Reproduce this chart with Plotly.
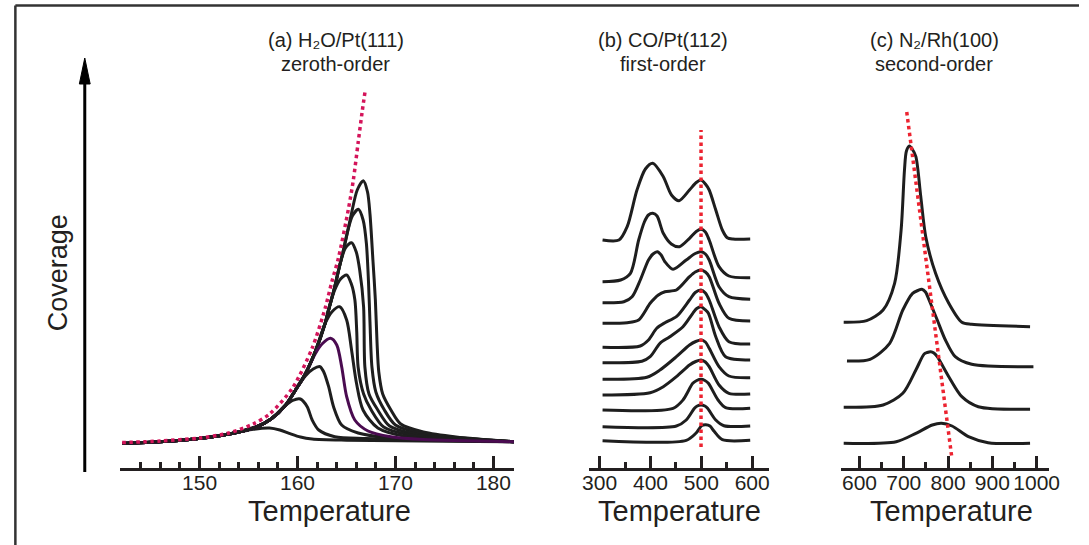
import plotly.graph_objects as go

W, H = 1089, 545
FONT = "Liberation Sans, Arial, sans-serif"
INK = "#231f20"

# ---------------- Panel (a): H2O/Pt(111), zeroth-order ----------------
A1_T = [142.1,145.4,148.4,151.5,154.0,155.8,157.3,158.8,159.8,160.8,161.8,162.8,163.2,163.8,164.2,164.6,165.0,165.5,166.1,166.72,167.15,167.4,167.7,167.95,168.12,168.3,168.7,169.54,170.54,172.85,176.2,182.1]
A1_Y = [-1.5,0,2,5.5,10,15,23,37,52,68,90,118,133,155,172,188,205,228,252,261.3,250,228,182,142,100,70,48,32,18,10,5,0.3]
A2_T = [142.1,145.4,148.4,151.5,154.0,155.8,157.3,158.8,159.8,160.8,161.8,162.8,163.2,163.8,164.2,164.6,165.1,165.6,166.22,166.7,167.03,167.25,167.4,167.6,168.0,168.87,170.0,172.5,176.2,182.1]
A2_Y = [-1.5,0,2,5.5,10,15,23,37,52,68,90,118,133,155,172,188,210,226,232.7,222,199,160,120,75,50,32,17,9,4.5,0.3]
A3_T = [142.1,145.4,148.4,151.5,154.0,155.8,157.3,158.8,159.8,160.8,161.8,162.8,163.2,163.8,164.4,164.9,165.52,166.0,166.35,166.75,166.88,167.3,168.2,169.4,172.0,176.0,182.1]
A3_Y = [-1.5,0,2,5.5,10,15,23,37,52,68,90,118,133,155,180,194,199.3,190,172,135,75,48,32,16,8,4,0.3]
A4_T = [142.1,145.4,148.4,151.5,154.0,155.8,157.3,158.8,159.8,160.8,161.8,162.8,163.2,163.8,164.4,165.02,165.5,165.86,166.05,166.19,166.75,167.53,168.8,171.5,176.0,182.1]
A4_Y = [-1.5,0,2,5.5,10,15,23,37,52,68,90,118,133,152,163,167,158,142,110,75,48,32,15,7,3.5,0.3]
A5_T = [142.1,145.4,148.4,151.5,154.0,155.8,157.3,158.8,159.8,160.8,161.8,162.8,163.5,164.31,165.02,165.52,166.02,166.69,168.2,171.22,176.0,182.1]
A5_Y = [-1.5,0,2,5.5,10,15,23,37,52,68,90,118,130,135.3,122,92,59,32,14,5.3,3,0.3]
A6_T = [142.1,145.4,148.4,151.5,154.0,155.8,157.3,158.8,159.8,160.8,161.8,162.5,163.38,164.01,164.51,165.02,165.85,167.2,169.54,172.85,182.1]
A6_Y = [-1.5,0,2,5.5,10,15,23,37,52,68,88,98,103.7,97,75.3,45.3,22,11,5.3,2.5,0.3]
A7_T = [142.1,145.4,148.4,151.5,154.0,155.8,157.3,158.8,159.8,160.8,161.6,162.3,162.67,163.18,163.68,164.51,166.19,169.54,175.0,182.1]
A7_Y = [-1.5,0,2,5.5,10,15,23,37,52,66,73,75.3,70.3,55.3,35.3,17,9,4,2,0.3]
A8_T = [142.1,145.4,148.4,151.5,154.0,155.8,157.3,158.6,159.5,160.3,160.99,161.5,162.17,163.81,167.0,172.0,182.1]
A8_Y = [-1.5,0,2,5.5,10,15,23,35,41.5,43,35.3,22,12,5.3,3.5,2,0.3]
A9_T = [142.1,145.4,148.4,151.5,154.0,155.5,157.15,158.2,159.15,160.3,161.5,165.0,175.0,182.1]
A9_Y = [-1.5,0,2,5.5,10,12.8,14,12,8.7,5,3,1.8,0.8,0.3]
A_EDGE_T = [142.1,145.4,148.4,151.5,154.0,155.8,157.3,158.8,159.8,160.8,161.8]
A_EDGE_Y = [-1.5,0,2,5.5,10,15,23,37,52,68,90]
A_DOT_T = [142.1,146,150,153,155.47,157.15,159.49,161.5,162.83,163.5,164.18,165.2,165.7,166.2,166.6,166.92]
A_DOT_Y = [-0.5,1,4,9,18,28,54,94,134,160,184,233,262,300,330,352]
A_TICKS = [150, 160, 170, 180]

# ---------------- Panel (b): CO/Pt(112), first-order ----------------
B1_T = [305.8,338.1,354.2,373.5,390,404.5,425.2,441.3,456.2,476.7,490,499.4,508,515.5,528.4,541.3,551.0,562,596.1]
B1_Y = [202,202,215.3,252,273,278.7,265.3,247,241.3,252,259.5,262,258,252,232,212,204.3,203,203]
B2_T = [305.8,341.3,360.6,376.8,388,396,404.5,413,425.2,441,457.0,476.8,490,499.4,508,515.5,534.8,554.2,596.1]
B2_Y = [160.3,162,168.7,202,220,227,228.7,226,208.7,198,195.3,203.7,210.5,212.7,210,202,175.3,166,164.3]
B3_T = [305.8,347.7,363.9,380.0,396.1,405,413.5,421,428.4,444.5,470.3,488,499.4,508,515.5,534.8,554.2,596.1]
B3_Y = [139.3,140.3,145.3,162,182,188,190.3,187,180.3,172.7,182,188.5,190.3,188,182,155.3,145.3,142.7]
B4_T = [305.8,354.2,376.8,399.4,415.5,428.4,451.0,476.8,488,499.4,508,515.5,534.8,554.2,596.1]
B4_Y = [118.7,119.3,122,138.7,147,150.3,152,165.3,170,172,170,165.3,138.7,123.7,121]
B5_T = [305.8,380.0,396.1,412.3,428.4,451.0,476.8,488,499.4,508,515.5,534.8,554.2,596.1]
B5_Y = [94.7,96,102,113.7,119.3,125.3,142,149.5,152,149,142,115.3,100.3,98]
B6_T = [305.8,383.2,399.4,418.7,438.1,463.9,483.2,491,499.4,507,513.9,528.4,547.7,596.1]
B6_Y = [79.3,80.7,85.3,98.7,105.3,115.3,128.7,133.5,135.3,132.5,128.7,105.3,85.3,82]
B7_T = [305.8,392.9,418.7,451.0,476.8,489,499.4,508,515.5,534.8,554.2,596.1]
B7_Y = [62.7,64.7,72,85.3,97,100.5,102,100,93.7,75.3,66,64.3]
B8_T = [305.8,399.4,425.2,451.0,476.8,489,499.4,508,515.5,534.8,554.2,596.1]
B8_Y = [47,49.3,55.3,65.3,77,80.5,82,80,75.3,57,48.7,48]
B9_T = [305.8,444.5,463.9,483.2,491,499.4,507,513.9,532.9,547.7,596.1]
B9_Y = [32,33.7,42,58.7,61.5,62.7,61.5,58.7,42,34.3,33.7]
B10_T = [305.8,451.0,470.3,486.5,492,499.4,507,512.3,528.4,544.5,596.1]
B10_Y = [15.3,16,22,33.7,36,37,36,33.7,22,16.3,16]
B11_T = [305.8,470.3,489.7,501,509.0,517,525.2,541.3,596.1]
B11_Y = [1.3,1.7,9,16.5,17.3,16,10.7,2.3,1.7]
B_DOT_T = [499.4, 499.4]
B_DOT_Y = [-5, 312]
B_TICKS = [300, 400, 500, 600]

# ---------------- Panel (c): N2/Rh(100), second-order ----------------
C1_T = [564.4,616.2,653.3,679.3,694.0,701.6,706.0,712.7,719.0,727.3,738.4,749.6,771.8,801.6,831.1,853.3,985.1]
C1_Y = [119.7,121.3,132,158.7,212,272,291,296,293,285.3,245.3,205.3,168.7,138.7,119.7,117.7,115.3]
C2_T = [571.8,623.8,668.2,697.8,720.0,732,740.7,749,757.1,775.6,794.0,816.2,853.3,992.7]
C2_Y = [81,82.7,98.7,132,148.7,151.5,152.7,150,142,122,102,85.3,77.7,75.3]
C3_T = [564.4,653.3,697.8,727.3,746.0,753,760.7,768,775.6,801.6,831.1,868.2,985.1]
C3_Y = [34.7,37,48.7,72,88,89.5,90.3,89,85.3,65.3,45.3,35.3,32.7]
C4_T = [564.4,682.9,727.3,764.4,785.1,808.9,846.0,890.4,985.1]
C4_Y = [-1.3,0.3,8.7,17,18.7,16,5.3,-0.7,-1.3]
C_DOT_T = [706.7, 808.9]
C_DOT_Y = [330, -17]
C_TICKS = [600, 700, 800, 900, 1000]


def fx(px):
    return px / W


def fy(py):
    return 1 - py / H


Y_DOMAIN = [fy(468), 1.0]
Y_RANGE = [-26, 442]

fig = go.Figure()


def curve(t, y, xa, ya, color="#1e1e1e", width=3.0):
    fig.add_trace(go.Scatter(x=t, y=y, xaxis=xa, yaxis=ya, mode="lines",
                             line=dict(color=color, width=width, shape="spline", smoothing=0.8),
                             hoverinfo="skip", showlegend=False))


def dotted(t, y, xa, ya, color, spline=True):
    fig.add_trace(go.Scatter(x=t, y=y, xaxis=xa, yaxis=ya, mode="lines",
                             line=dict(color=color, width=3.5, dash="dot",
                                       shape="spline" if spline else "linear", smoothing=0.8),
                             hoverinfo="skip", showlegend=False))


# panel a
for t, y in [(A1_T, A1_Y), (A2_T, A2_Y), (A3_T, A3_Y), (A4_T, A4_Y), (A5_T, A5_Y),
             (A7_T, A7_Y), (A8_T, A8_Y), (A9_T, A9_Y)]:
    curve(t, y, "x", "y")
curve(A6_T, A6_Y, "x", "y", color="#4a0b50")
curve(A_EDGE_T, A_EDGE_Y, "x", "y")
dotted(A_DOT_T, A_DOT_Y, "x", "y", "#d4145a")

# panel b
for t, y in [(B1_T, B1_Y), (B2_T, B2_Y), (B3_T, B3_Y), (B4_T, B4_Y), (B5_T, B5_Y), (B6_T, B6_Y),
             (B7_T, B7_Y), (B8_T, B8_Y), (B9_T, B9_Y), (B10_T, B10_Y), (B11_T, B11_Y)]:
    curve(t, y, "x2", "y2")
dotted(B_DOT_T, B_DOT_Y, "x2", "y2", "#ec2330", spline=False)

# panel c
for t, y in [(C1_T, C1_Y), (C2_T, C2_Y), (C3_T, C3_Y), (C4_T, C4_Y)]:
    curve(t, y, "x3", "y3")
dotted(C_DOT_T, C_DOT_Y, "x3", "y3", "#ec2330", spline=False)


def xaxis(domain, rng, ticks, minor_dtick, minor_tick0, anchor):
    return dict(domain=domain, range=rng, anchor=anchor,
                showline=True, linewidth=3, linecolor=INK,
                tickmode="array", tickvals=ticks, ticktext=[str(v) for v in ticks],
                ticks="inside", ticklen=12, tickwidth=3, tickcolor=INK,
                ticklabelstandoff=-6,
                minor=dict(ticks="inside", ticklen=6, tickwidth=3, tickcolor=INK,
                           dtick=minor_dtick, tick0=minor_tick0, showgrid=False),
                showgrid=False, zeroline=False,
                tickfont=dict(family=FONT, size=21, color=INK))


def yaxis(anchor):
    return dict(domain=Y_DOMAIN, range=Y_RANGE, visible=False, anchor=anchor,
                showgrid=False, zeroline=False)


fig.update_layout(
    width=W, height=H, margin=dict(l=0, r=0, t=0, b=0),
    paper_bgcolor="white", plot_bgcolor="rgba(0,0,0,0)", showlegend=False,
    xaxis=xaxis([fx(115), fx(515)], [141.9, 182.1], A_TICKS, 2, 142, "y"),
    xaxis2=xaxis([fx(591), fx(774)], [278.7, 632.9], B_TICKS, 50, 300, "y2"),
    xaxis3=xaxis([fx(847), fx(1059)], [557.8, 1028.9], C_TICKS, 50, 600, "y3"),
    yaxis=yaxis("x"), yaxis2=yaxis("x2"), yaxis3=yaxis("x3"),
)

ann = []


def text(px, py, s, size, angle=0):
    ann.append(dict(x=fx(px), y=fy(py), xref="paper", yref="paper", text=s, showarrow=False,
                    xanchor="center", yanchor="middle", textangle=angle,
                    font=dict(family=FONT, size=size, color=INK)))


text(334, 40, "(a) H\u2082O/Pt(111)", 20)
text(334, 64, "zeroth-order", 20)
text(666, 40, "(b) CO/Pt(112)", 20)
text(666, 64, "first-order", 20)
text(942, 40, "(c) N\u2082/Rh(100)", 20)
text(942, 64, "second-order", 20)
text(328, 511, "Temperature", 29)
text(683.5, 511, "Temperature", 29)
text(959.5, 511, "Temperature", 29)
text(52, 273, "Coverage", 27, angle=-90)
fig.update_layout(annotations=ann)

shapes = [
    dict(type="line", xref="paper", yref="paper", x0=fx(8.5), y0=fy(5.5), x1=fx(1089), y1=fy(5.5),
         line=dict(color="#333333", width=2.5)),
    dict(type="line", xref="paper", yref="paper", x0=fx(8.5), y0=fy(5.5), x1=fx(8.5), y1=fy(545),
         line=dict(color="#333333", width=2.5)),
    dict(type="line", xref="paper", yref="paper", x0=fx(79), y0=fy(472), x1=fx(79), y1=fy(78),
         line=dict(color="black", width=3)),
    dict(type="path", xref="paper", yref="paper",
         path=f"M {fx(73.5)},{fy(84)} L {fx(79)},{fy(58)} L {fx(84.5)},{fy(84)} Z",
         fillcolor="black", line=dict(color="black", width=1)),
]
fig.update_layout(shapes=shapes)

fig.write_html("out.html")
